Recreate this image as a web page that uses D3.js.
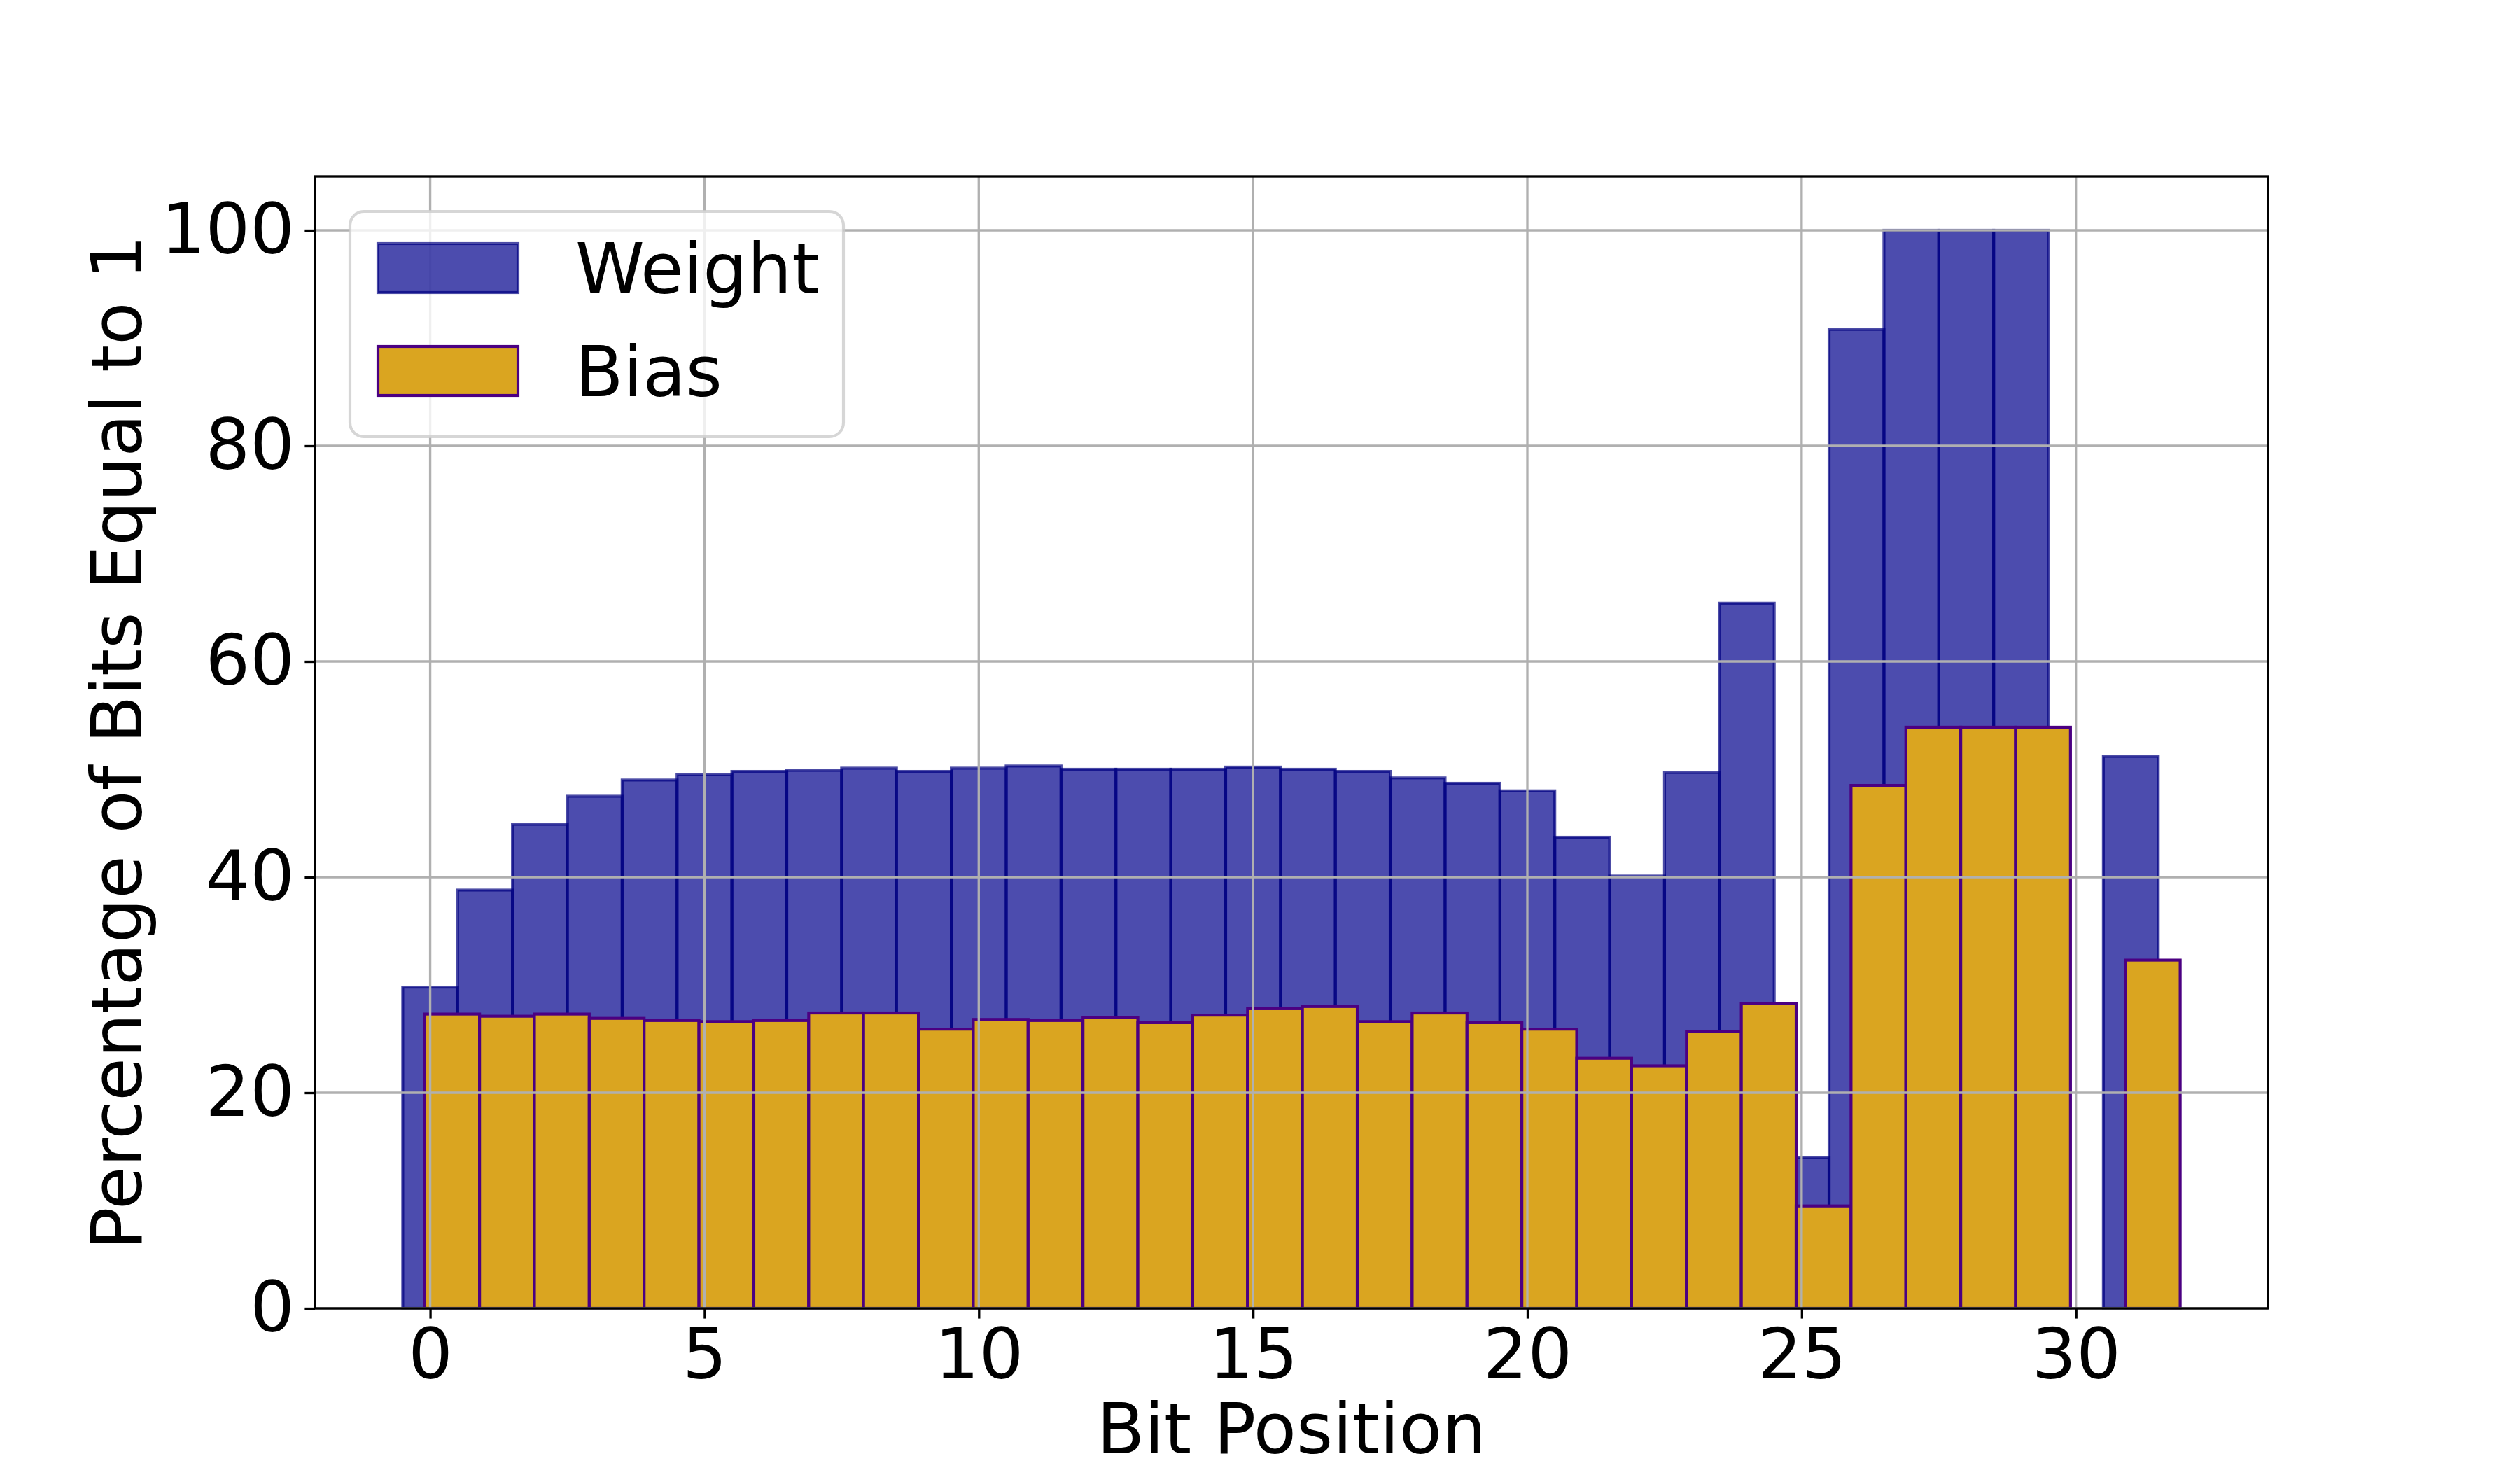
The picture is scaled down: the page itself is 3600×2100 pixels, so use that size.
<!DOCTYPE html>
<html>
<head>
<meta charset="utf-8">
<script src="https://cdn.jsdelivr.net/npm/d3@7"></script>
<style>
  html, body { margin: 0; padding: 0; background: #fff; }
  svg { display: block; font-family: "DejaVu Sans", sans-serif; }
</style>
</head>
<body>
<svg id="chart" width="3600" height="2100"></svg>
<script>
// ---- data ----
const bitPositions = d3.range(32);
const weightPct = [29.8, 38.8, 44.9, 47.5, 49.0, 49.5, 49.8, 49.9, 50.1, 49.8,
                   50.1, 50.3, 50.0, 50.0, 50.0, 50.2, 50.0, 49.8, 49.2, 48.7,
                   48.0, 43.7, 40.1, 49.7, 65.4, 14.0, 90.8, 100, 100, 100,
                   0, 51.2];
const biasPct = [27.3, 27.1, 27.3, 26.9, 26.7, 26.6, 26.7, 27.4, 27.4, 25.9,
                 26.8, 26.7, 27.0, 26.5, 27.2, 27.8, 28.0, 26.6, 27.4, 26.5,
                 25.9, 23.2, 22.5, 25.7, 28.3, 9.5, 48.5, 53.9, 53.9, 53.9,
                 0, 32.3];
const xTicks = [0, 5, 10, 15, 20, 25, 30];
const yTicks = [0, 20, 40, 60, 80, 100];
const seriesNames = ["Weight", "Bias"];

// ---- layout ----
const W = 3600, H = 2100;
const m = { left: 450, right: 3240, top: 252, bottom: 1869 };
const lw = 4.17; // 1pt at 300dpi
const svg = d3.select("#chart");

const x = d3.scaleLinear().domain([-2.1, 33.5]).range([m.left, m.right]);
const y = d3.scaleLinear().domain([0, 105]).range([m.bottom, m.top]);

const barW = 1.0;
const weightOffset = -0.5; // left edge relative to bit position
const biasOffset = -0.1;

const weightFill = "#00008b", weightEdge = "#000080", alpha = 0.7;
const biasFill = "#daa520", biasEdge = "#4b0082";

// weight bars
svg.append("g").selectAll("rect")
  .data(bitPositions.filter(i => weightPct[i] > 0))
  .join("rect")
  .attr("x", i => x(i + weightOffset))
  .attr("width", i => x(i + weightOffset + barW) - x(i + weightOffset))
  .attr("y", i => y(weightPct[i]))
  .attr("height", i => y(0) - y(weightPct[i]))
  .attr("fill", weightFill).attr("fill-opacity", alpha)
  .attr("stroke", weightEdge).attr("stroke-opacity", alpha)
  .attr("stroke-width", lw);

// bias bars
svg.append("g").selectAll("rect")
  .data(bitPositions.filter(i => biasPct[i] > 0))
  .join("rect")
  .attr("x", i => x(i + biasOffset))
  .attr("width", i => x(i + biasOffset + barW) - x(i + biasOffset))
  .attr("y", i => y(biasPct[i]))
  .attr("height", i => y(0) - y(biasPct[i]))
  .attr("fill", biasFill)
  .attr("stroke", biasEdge)
  .attr("stroke-width", lw);

// grid (above patches, like matplotlib default)
const grid = svg.append("g").attr("stroke", "#b0b0b0").attr("stroke-width", 3.33);
grid.selectAll("line.gx").data(xTicks).join("line")
  .attr("x1", d => x(d)).attr("x2", d => x(d))
  .attr("y1", m.top).attr("y2", m.bottom);
grid.selectAll("line.gy").data(yTicks).join("line")
  .attr("y1", d => y(d)).attr("y2", d => y(d))
  .attr("x1", m.left).attr("x2", m.right);

// axes
const tickLen = 14.6, tickPad = 14.6, tickFont = 100;
const xAxis = d3.axisBottom(x).tickValues(xTicks).tickSize(tickLen).tickPadding(tickPad).tickFormat(d3.format("d"));
const yAxis = d3.axisLeft(y).tickValues(yTicks).tickSize(tickLen).tickPadding(tickPad).tickFormat(d3.format("d"));

const gx = svg.append("g").attr("transform", `translate(0,${m.bottom})`).call(xAxis);
const gy = svg.append("g").attr("transform", `translate(${m.left},0)`).call(yAxis);
[gx, gy].forEach(g => {
  g.select(".domain").remove();
  g.selectAll(".tick line").attr("stroke", "#000").attr("stroke-width", 3.33);
  g.selectAll(".tick text").attr("fill", "#000")
    .style("font-size", tickFont + "px")
    .style("font-family", "'DejaVu Sans', sans-serif");
});

// spines
svg.append("rect")
  .attr("x", m.left).attr("y", m.top)
  .attr("width", m.right - m.left).attr("height", m.bottom - m.top)
  .attr("fill", "none").attr("stroke", "#000").attr("stroke-width", 3.33);

// axis labels
svg.append("text")
  .attr("x", (m.left + m.right) / 2).attr("y", 2076)
  .attr("text-anchor", "middle")
  .style("font-size", "100px")
  .text("Bit Position");
svg.append("text")
  .attr("transform", `translate(202,${(m.top + m.bottom) / 2}) rotate(-90)`)
  .attr("text-anchor", "middle")
  .style("font-size", "100px")
  .text("Percentage of Bits Equal to 1");

// legend
const lg = svg.append("g").attr("transform", "translate(500,302)");
lg.append("rect")
  .attr("x", 0).attr("y", 0).attr("width", 705).attr("height", 322)
  .attr("rx", 20).attr("ry", 20)
  .attr("fill", "#fff").attr("fill-opacity", 0.8)
  .attr("stroke", "#cccccc").attr("stroke-opacity", 0.8).attr("stroke-width", lw);
const legendItems = [
  { name: seriesNames[0], fill: weightFill, fo: alpha, edge: weightEdge, eo: alpha },
  { name: seriesNames[1], fill: biasFill, fo: 1, edge: biasEdge, eo: 1 }
];
const rowH = 147;
const li = lg.selectAll("g.item").data(legendItems).join("g")
  .attr("transform", (d, i) => `translate(40,${81 + i * rowH})`);
li.append("rect")
  .attr("x", 0).attr("y", -35).attr("width", 200).attr("height", 70)
  .attr("fill", d => d.fill).attr("fill-opacity", d => d.fo)
  .attr("stroke", d => d.edge).attr("stroke-opacity", d => d.eo)
  .attr("stroke-width", lw);
li.append("text")
  .attr("x", 282).attr("y", 36)
  .style("font-size", "100px")
  .text(d => d.name);
</script>
</body>
</html>
